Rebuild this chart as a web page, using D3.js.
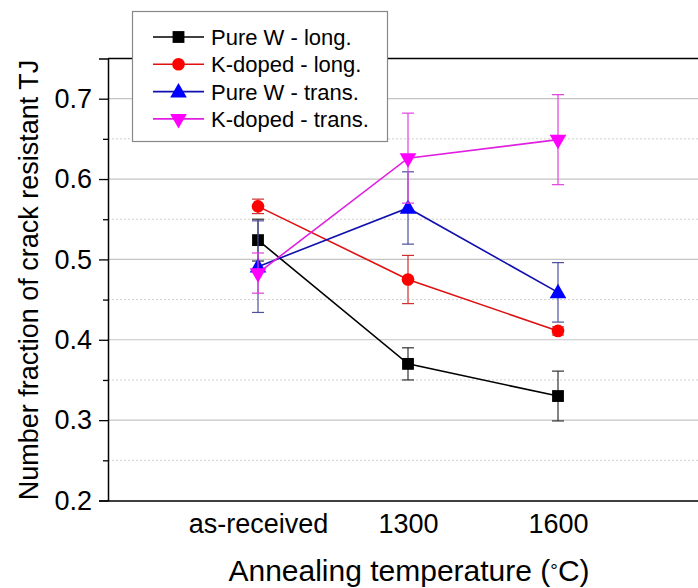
<!DOCTYPE html>
<html>
<head>
<meta charset="utf-8">
<script src="https://cdn.jsdelivr.net/npm/d3@7"></script>
<style>
  html, body { margin: 0; padding: 0; background: #fff; }
  svg { display: block; font-family: Arial, "Liberation Sans", sans-serif; }
</style>
</head>
<body>
<svg id="chart" width="698" height="588"></svg>
<script>
// Annealing conditions on the x axis
const categories = ["as-received", "1300", "1600"];

// Mean fraction of crack-resistant triple junctions and error (± half-range)
const pureWLong      = [0.524, 0.370, 0.330];
const pureWLongErr   = [0.026, 0.020, 0.031];
const kDopedLong     = [0.566, 0.475, 0.411];
const kDopedLongErr  = [0.009, 0.030, 0.005];
const pureWTrans     = [0.491, 0.564, 0.459];
const pureWTransErr  = [0.057, 0.045, 0.037];
const kDopedTrans    = [0.483, 0.626, 0.649];
const kDopedTransErr = [0.025, 0.056, 0.056];

const seriesNames = ["Pure W - long.", "K-doped - long.", "Pure W - trans.", "K-doped - trans."];
const yTicks = [0.2, 0.3, 0.4, 0.5, 0.6, 0.7];
const yMinorTicks = [0.25, 0.35, 0.45, 0.55, 0.65];

const series = [
  { name: seriesNames[0], values: pureWLong,   err: pureWLongErr,   line: "#000000", fill: "#000000", errColor: "#333333", shape: "square" },
  { name: seriesNames[1], values: kDopedLong,  err: kDopedLongErr,  line: "#e01010", fill: "#ff0000", errColor: "#d03030", shape: "circle" },
  { name: seriesNames[2], values: pureWTrans,  err: pureWTransErr,  line: "#1010b0", fill: "#0000ff", errColor: "#5050a0", shape: "up" },
  { name: seriesNames[3], values: kDopedTrans, err: kDopedTransErr, line: "#e020e0", fill: "#ff00ff", errColor: "#e040e0", shape: "down" }
];

const FONT = "Arial, 'Liberation Sans', sans-serif";
const svg = d3.select("#chart");
const margin = { left: 108, top: 58.5, width: 600, height: 442 };

// Category positions sit at 1, 2, 3 on a 0..4 linear scale
const x = d3.scaleLinear().domain([0, 4]).range([margin.left, margin.left + margin.width]);
const y = d3.scaleLinear().domain([0.2, 0.75]).range([margin.top + margin.height, margin.top]);
const xPos = i => x(i + 1);

const plot = svg.append("g");

// Gridlines
plot.selectAll("line.minor").data(yMinorTicks).join("line")
  .attr("x1", margin.left).attr("x2", margin.left + margin.width)
  .attr("y1", d => y(d)).attr("y2", d => y(d))
  .attr("stroke", "#d0d0d0").attr("stroke-width", 1).attr("stroke-dasharray", "2,2");
plot.selectAll("line.major").data(yTicks.filter(t => t > 0.2)).join("line")
  .attr("x1", margin.left).attr("x2", margin.left + margin.width)
  .attr("y1", d => y(d)).attr("y2", d => y(d))
  .attr("stroke", "#c4c4c4").attr("stroke-width", 1.2);

// Frame: top line
svg.append("line").attr("x1", margin.left).attr("x2", margin.left + margin.width)
  .attr("y1", y(0.75)).attr("y2", y(0.75)).attr("stroke", "#000").attr("stroke-width", 1.5);

// Left axis with outward major and minor ticks
const yAxis = d3.axisLeft(y).tickValues(yTicks).tickSize(9).tickPadding(7).tickFormat(d3.format(".1f"));
const gy = svg.append("g").attr("transform", `translate(${margin.left},0)`).call(yAxis);
gy.select(".domain").attr("stroke", "#000").attr("stroke-width", 1.5);
gy.selectAll(".tick line").attr("stroke", "#000").attr("stroke-width", 1.3);
gy.selectAll(".tick text").attr("font-size", 27).attr("fill", "#000").attr("font-family", FONT);
const gyMinor = svg.append("g").attr("transform", `translate(${margin.left},0)`)
  .call(d3.axisLeft(y).tickValues(yMinorTicks).tickSize(5).tickFormat(""));
gyMinor.select(".domain").remove();
gyMinor.selectAll(".tick line").attr("stroke", "#000").attr("stroke-width", 1.3);

// Bottom axis: category labels, no ticks
const xAxis = d3.axisBottom(x).tickValues([1, 2, 3]).tickSize(0).tickPadding(13)
  .tickFormat(d => categories[d - 1]);
const gx = svg.append("g").attr("transform", `translate(0,${y(0.2)})`).call(xAxis);
gx.select(".domain").attr("stroke", "#000").attr("stroke-width", 1.5);
gx.selectAll(".tick text").attr("font-size", 27).attr("fill", "#000").attr("font-family", FONT);

// Axis titles
const xTitle = svg.append("text")
  .attr("x", 409).attr("y", 581).attr("text-anchor", "middle")
  .attr("font-size", 30).attr("fill", "#000");
xTitle.append("tspan").text("Annealing temperature (");
xTitle.append("tspan").attr("font-size", 19).attr("dy", -4).text("°");
xTitle.append("tspan").attr("dy", 4).text("C)");

svg.append("text")
  .attr("transform", `translate(38,${280}) rotate(-90)`)
  .attr("text-anchor", "middle")
  .attr("font-size", 27).attr("fill", "#000")
  .text("Number fraction of crack resistant TJ");

// Marker symbols
function symbolPath(shape) {
  if (shape === "square") return d3.symbol(d3.symbolSquare, 140)();
  if (shape === "circle") return d3.symbol(d3.symbolCircle, 125)();
  return d3.symbol(d3.symbolTriangle, 120)();
}
function symbolTransform(shape, px, py) {
  if (shape === "down") return `translate(${px},${py}) rotate(180)`;
  if (shape === "up") return `translate(${px},${py + 1})`;
  return `translate(${px},${py})`;
}

const line = d3.line().x((d, i) => xPos(i)).y(d => y(d));

series.forEach(s => {
  const g = plot.append("g");
  // Error bars
  s.values.forEach((v, i) => {
    const cx = xPos(i), e = s.err[i];
    g.append("line").attr("x1", cx).attr("x2", cx).attr("y1", y(v - e)).attr("y2", y(v + e))
      .attr("stroke", s.errColor).attr("stroke-width", 1.2);
    [v - e, v + e].forEach(t => {
      g.append("line").attr("x1", cx - 6).attr("x2", cx + 6).attr("y1", y(t)).attr("y2", y(t))
        .attr("stroke", s.errColor).attr("stroke-width", 1.2);
    });
  });
  g.append("path").datum(s.values).attr("d", line)
    .attr("fill", "none").attr("stroke", s.line).attr("stroke-width", 1.6);
  g.selectAll("path.mk").data(s.values).join("path")
    .attr("d", symbolPath(s.shape))
    .attr("transform", (d, i) => symbolTransform(s.shape, xPos(i), y(d)))
    .attr("fill", s.fill);
});

// Legend
const legend = svg.append("g");
legend.append("rect").attr("x", 132.5).attr("y", 11.5).attr("width", 255).attr("height", 130)
  .attr("fill", "#fff").attr("stroke", "#888").attr("stroke-width", 1.2);
series.forEach((s, i) => {
  const cy = 37 + i * 27.3;
  legend.append("line").attr("x1", 153).attr("x2", 204).attr("y1", cy).attr("y2", cy)
    .attr("stroke", s.line).attr("stroke-width", 1.6);
  legend.append("path").attr("d", symbolPath(s.shape))
    .attr("transform", symbolTransform(s.shape, 178.5, cy)).attr("fill", s.fill);
  legend.append("text").attr("x", 211).attr("y", cy + 8)
    .attr("font-size", 22).attr("fill", "#000").text(s.name);
});
</script>
</body>
</html>
